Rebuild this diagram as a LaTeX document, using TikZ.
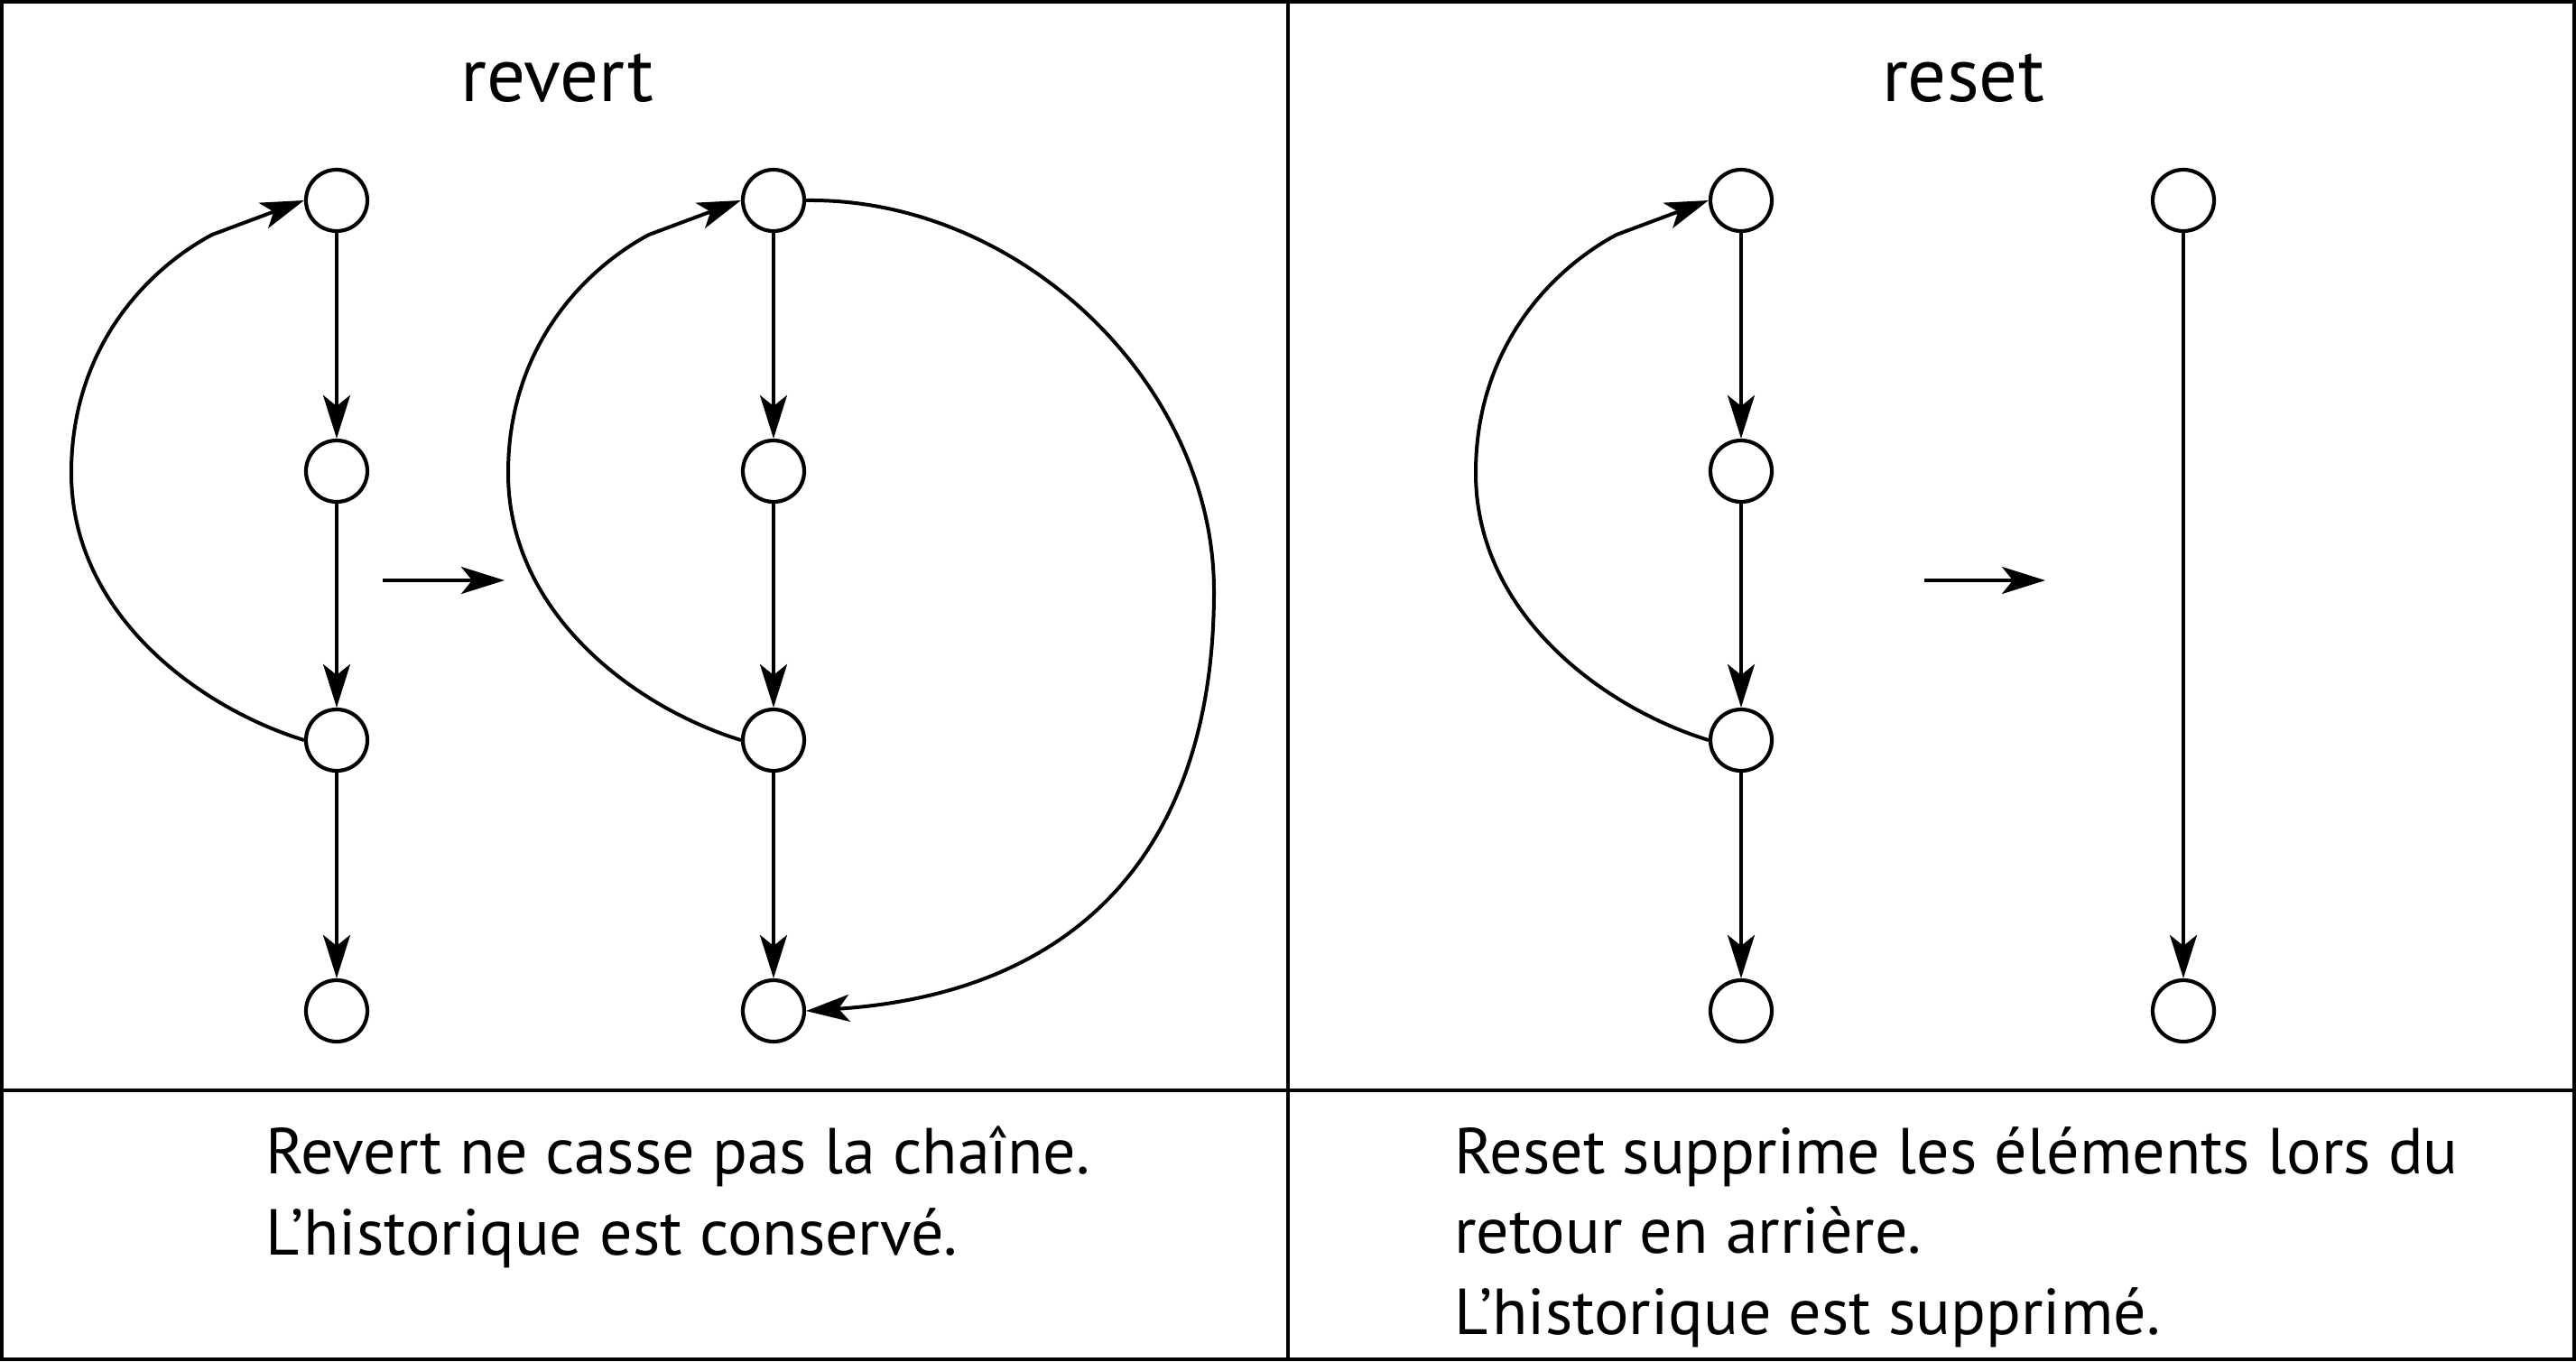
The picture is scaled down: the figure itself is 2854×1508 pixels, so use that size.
\documentclass[tikz,border=0pt]{standalone}
\usepackage{fontspec}
\setmainfont{PT Sans}
\usetikzlibrary{arrows.meta}
\begin{document}
\begin{tikzpicture}[x=1pt,y=-1pt,
  cnode/.style={circle,draw,line width=4.2pt,minimum size=68pt,inner sep=0pt},
  tip/.style={-{Stealth[length=48pt,width=30pt,inset=12pt]}},
  edge/.style={line width=4pt,tip},
  frame/.style={line width=4pt},
  title/.style={anchor=base,inner sep=0pt,font=\fontsize{85}{100}\selectfont},
  body/.style={anchor=base west,inner sep=0pt,font=\fontsize{72}{89}\selectfont}]
\useasboundingbox (0,0) rectangle (2854,1508);
% frame
\draw[frame] (2,2) rectangle (2852,1506);
\draw[frame] (1427,0) -- (1427,1508);
\draw[frame] (0,1208) -- (2854,1208);
% titles
\node[title] (tl) at (617,112) {revert};
\node[title] (tr) at (2175,112) {reset};
% nodes
\foreach \c/\x in {1/373,2/857,3/1929}{
  \foreach \r/\y in {1/222,2/522,3/820,4/1120}{
    \node[cnode] (n\c\r) at (\x,\y) {};
  }
  \draw[edge] (n\c1) -- (n\c2);
  \draw[edge] (n\c2) -- (n\c3);
  \draw[edge] (n\c3) -- (n\c4);
}
\node[cnode] (n41) at (2419,222) {};
\node[cnode] (n44) at (2419,1120) {};
\draw[edge] (n41) -- (n44);
% back curves
\draw[edge] (n13.west) .. controls (220,784) and (79,680) .. (79,524)
  .. controls (79,384) and (164,298) .. (235,260) -- (n11.west);
\draw[edge] (n23.west) .. controls (704,784) and (563,680) .. (563,524)
  .. controls (563,384) and (648,298) .. (719,260) -- (n21.west);
\draw[edge] (n33.west) .. controls (1776,784) and (1635,680) .. (1635,524)
  .. controls (1635,384) and (1720,298) .. (1791,260) -- (n31.west);
% big revert curve
\draw[edge] (n21.east) .. controls (1130,219) and (1345,425) .. (1345,655)
  .. controls (1345,935) and (1200,1100) .. (n24.east);
% transition arrows
\coordinate (ha1) at (424,643);
\coordinate (hb1) at (559,643);
\coordinate (ha2) at (2132,643);
\coordinate (hb2) at (2266,643);
\draw[edge] (ha1) -- (hb1);
\draw[edge] (ha2) -- (hb2);
% texts
\node[body] (l1) at (294,1300) {Revert ne casse pas la chaîne.};
\node[body] (l2) at (294,1390) {L’historique est conservé.};
\node[body] (r1) at (1611,1300) {Reset supprime les éléments lors du};
\node[body] (r2) at (1611,1388) {retour en arrière.};
\node[body] (r3) at (1611,1478) {L’historique est supprimé.};
\end{tikzpicture}
\end{document}
